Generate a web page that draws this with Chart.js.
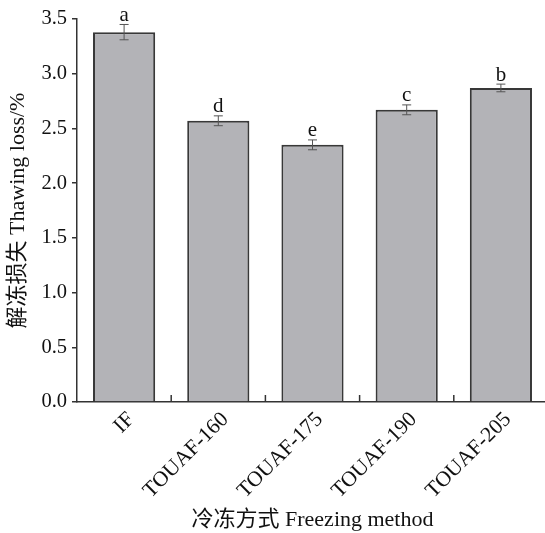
<!DOCTYPE html>
<html>
<head>
<meta charset="utf-8">
<script src="https://cdn.jsdelivr.net/npm/chart.js@4"></script>
<style>
  html, body { margin: 0; padding: 0; background: #fff; overflow: hidden; }
  #wrap { width: 548px; height: 533px; }
</style>
</head>
<body>
<div id="wrap"><canvas id="thawing" width="548" height="533"></canvas></div>
<script>
// freezing methods and thawing loss (%)
var methods = ['IF', 'TOUAF-160', 'TOUAF-175', 'TOUAF-190', 'TOUAF-205']
var thawLoss = [3.38, 2.57, 2.35, 2.67, 2.87]
var errBars = [0.07, 0.045, 0.045, 0.045, 0.035]
var sigLetters = ['a', 'd', 'e', 'c', 'b']
var yTicks = [0, 0.5, 1.0, 1.5, 2.0, 2.5, 3.0, 3.5]

var serif = "'Liberation Serif', 'Noto Sans CJK SC', serif"
var ink = '#333333'

// error bars, letters and the little inward ticks between the bars
var extras = {
	id: 'extras',
	afterDatasetsDraw: function(chart) {
		var ctx = chart.ctx
		var xs = chart.scales.x
		var ys = chart.scales.y
		ctx.save()
		ctx.strokeStyle = '#555'
		ctx.lineWidth = 1
		for (var i = 0; i < thawLoss.length; i++) {
			var cx = xs.getPixelForValue(i)
			var top = ys.getPixelForValue(thawLoss[i] + errBars[i])
			var bot = ys.getPixelForValue(thawLoss[i] - errBars[i])
			ctx.beginPath()
			ctx.moveTo(cx, top); ctx.lineTo(cx, bot)
			ctx.moveTo(cx - 4.5, top); ctx.lineTo(cx + 4.5, top)
			ctx.moveTo(cx - 4.5, bot); ctx.lineTo(cx + 4.5, bot)
			ctx.stroke()

			ctx.fillStyle = '#111'
			ctx.font = '21px ' + serif
			ctx.textAlign = 'center'
			ctx.textBaseline = 'alphabetic'
			ctx.fillText(sigLetters[i], cx, top - 3.5)
		}
		// inward ticks at the category boundaries
		ctx.strokeStyle = ink
		ctx.lineWidth = 1.5
		var base = chart.chartArea.bottom
		for (var j = 1; j < methods.length; j++) {
			var bx = (xs.getPixelForValue(j - 1) + xs.getPixelForValue(j)) / 2
			ctx.beginPath()
			ctx.moveTo(bx, base); ctx.lineTo(bx, base - 7)
			ctx.stroke()
		}
		ctx.restore()
	}
}

const thawChart = new Chart(document.getElementById('thawing').getContext('2d'), {
	type: 'bar',
	data: {
		labels: methods,
		datasets: [{
			data: thawLoss,
			backgroundColor: '#b3b3b7',
			borderColor: '#383838',
			borderWidth: 2,
			borderSkipped: 'bottom',
			categoryPercentage: 1,
			barPercentage: 0.66
		}]
	},
	options: {
		responsive: false,
		animation: false,
		layout: { padding: { top: 19, right: 0, left: 0, bottom: 0 } },
		plugins: {
			legend: { display: false },
			tooltip: { enabled: false }
		},
		scales: {
			x: {
				offset: true,
				grid: { display: false },
				border: { display: true, color: ink, width: 1.5 },
				ticks: {
					color: '#111',
					font: { family: serif, size: 21.5 },
					minRotation: 45,
					maxRotation: 45,
					labelOffset: 7,
					padding: -3
				},
				title: {
					display: true,
					text: '冷冻方式 Freezing method',
					color: '#111',
					font: { family: serif, size: 22 },
					padding: { top: 0, bottom: 0 }
				},
				afterFit: function(scale) { scale.height = 131 }
			},
			y: {
				min: 0,
				max: 3.5,
				afterBuildTicks: function(scale) {
					scale.ticks = yTicks.map(function(v) { return { value: v } })
				},
				grid: { drawOnChartArea: false, tickLength: 5, color: ink, lineWidth: 1.5 },
				border: { display: true, color: ink, width: 1.5 },
				ticks: {
					color: '#111',
					font: { family: serif, size: 20.5 },
					padding: 5,
					callback: function(v) { return Number(v).toFixed(1) }
				},
				title: {
					display: true,
					text: '解冻损失 Thawing loss/%',
					color: '#111',
					font: { family: serif, size: 22 },
					padding: { top: 5, bottom: 0 }
				},
				afterFit: function(scale) { scale.width = 77 }
			}
		}
	},
	plugins: [extras]
})
</script>
</body>
</html>
